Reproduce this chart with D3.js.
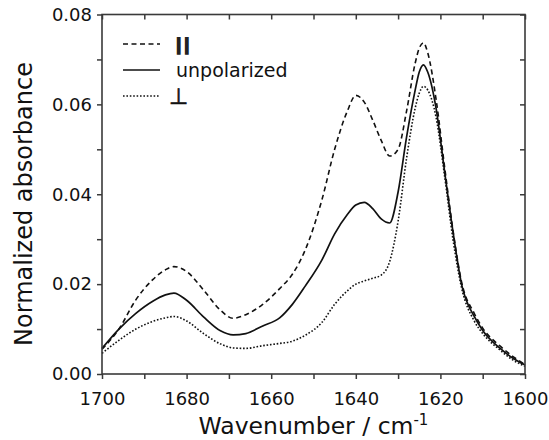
<!DOCTYPE html>
<html>
<head>
<meta charset="utf-8">
<script src="https://cdn.jsdelivr.net/npm/d3@7"></script>
<style>
  html, body { margin: 0; padding: 0; background: #fff; }
  svg { display: block; font-family: "DejaVu Sans", sans-serif; }
</style>
</head>
<body>
<svg id="chart" width="549" height="440"></svg>
<script>
const wavenumber = [1700, 1696, 1692, 1688, 1685, 1683, 1680, 1676, 1672, 1669, 1666, 1662, 1658, 1655, 1652, 1648, 1645, 1642, 1640, 1638, 1636, 1634, 1632, 1630, 1628, 1626, 1625, 1624, 1623, 1621, 1619, 1617, 1615, 1612, 1610, 1606, 1603, 1600];
const parallel = [0.0055, 0.0100, 0.0165, 0.0210, 0.0232, 0.0239, 0.0228, 0.0187, 0.0142, 0.0124, 0.0132, 0.0155, 0.0190, 0.0222, 0.0275, 0.0388, 0.0500, 0.0585, 0.0620, 0.0605, 0.0565, 0.0520, 0.0485, 0.0500, 0.0585, 0.0690, 0.0725, 0.0737, 0.0715, 0.0610, 0.0460, 0.0318, 0.0205, 0.0135, 0.0102, 0.0063, 0.0040, 0.0021];
const unpolarized = [0.0057, 0.0100, 0.0135, 0.0162, 0.0176, 0.0180, 0.0164, 0.0127, 0.0096, 0.0087, 0.0090, 0.0107, 0.0125, 0.0155, 0.0195, 0.0254, 0.0312, 0.0355, 0.0376, 0.0382, 0.0368, 0.0345, 0.0336, 0.0405, 0.0527, 0.0630, 0.0672, 0.0688, 0.0672, 0.0590, 0.0450, 0.0315, 0.0200, 0.0128, 0.0097, 0.0058, 0.0036, 0.0020];
const perpendicular = [0.0046, 0.0075, 0.0100, 0.0117, 0.0125, 0.0128, 0.0118, 0.0090, 0.0067, 0.0058, 0.0057, 0.0063, 0.0068, 0.0073, 0.0086, 0.0115, 0.0155, 0.0185, 0.0200, 0.0207, 0.0213, 0.0220, 0.0250, 0.0340, 0.0480, 0.0590, 0.0625, 0.0640, 0.0632, 0.0570, 0.0440, 0.0298, 0.0192, 0.0118, 0.0090, 0.0054, 0.0032, 0.0017];
const seriesNames = ["\u2225", "unpolarized", "\u22A5"];
const xTicks = [1700, 1680, 1660, 1640, 1620, 1600];
const xMinorTicks = [1690, 1670, 1650, 1630, 1610];
const yTicks = [0.00, 0.02, 0.04, 0.06, 0.08];
const yMinorTicks = [0.01, 0.03, 0.05, 0.07];

const mLeft = 102, mRight = 525, mTop = 14.5, mBottom = 374;
const svg = d3.select("#chart");
const x = d3.scaleLinear().domain([1700, 1600]).range([mLeft, mRight]);
const y = d3.scaleLinear().domain([0, 0.08]).range([mBottom, mTop]);

const styles = [
  { dash: "5,3.5", width: 1.6 },
  { dash: null, width: 1.7 },
  { dash: "1.6,1.8", width: 1.6 }
];
const seriesData = [parallel, unpolarized, perpendicular];

const line = d3.line()
  .x(d => x(d[0]))
  .y(d => y(d[1]))
  .curve(d3.curveMonotoneX);

seriesData.forEach((vals, i) => {
  svg.append("path")
    .datum(wavenumber.map((w, j) => [w, vals[j]]))
    .attr("fill", "none")
    .attr("stroke", "#111")
    .attr("stroke-width", styles[i].width)
    .attr("stroke-dasharray", styles[i].dash)
    .attr("d", line);
});

const axisColor = "#3a3a3a";
const tickLen = 5;
const fs = "18px";

svg.append("g").attr("transform", `translate(0,${mBottom})`)
  .call(d3.axisBottom(x).tickValues(xTicks).tickSize(tickLen).tickPadding(13).tickFormat(d3.format("d")));
svg.append("g").attr("transform", `translate(0,${mBottom})`)
  .call(d3.axisBottom(x).tickValues(xMinorTicks).tickSize(tickLen).tickFormat(""));
svg.append("g").attr("transform", `translate(0,${mTop})`)
  .call(d3.axisBottom(x).tickValues(xTicks.concat(xMinorTicks)).tickSize(tickLen).tickFormat(""));
svg.append("g").attr("transform", `translate(${mLeft},0)`)
  .call(d3.axisLeft(y).tickValues(yTicks).tickSize(tickLen).tickPadding(5).tickFormat(d3.format(".2f")));
svg.append("g").attr("transform", `translate(${mLeft},0)`)
  .call(d3.axisLeft(y).tickValues(yMinorTicks).tickSize(tickLen).tickFormat(""));
svg.append("g").attr("transform", `translate(${mRight},0)`)
  .call(d3.axisLeft(y).tickValues(yTicks.concat(yMinorTicks)).tickSize(tickLen).tickFormat(""));

svg.selectAll(".domain").remove();
svg.selectAll(".tick line").attr("stroke", axisColor).attr("stroke-width", 1.5);
svg.selectAll(".tick text").attr("fill", "#111").style("font-size", fs).style("font-family", "DejaVu Sans, sans-serif");

svg.append("rect")
  .attr("x", mLeft).attr("y", mTop)
  .attr("width", mRight - mLeft).attr("height", mBottom - mTop)
  .attr("fill", "none").attr("stroke", axisColor).attr("stroke-width", 1.6);

svg.append("text")
  .attr("x", (mLeft + mRight) / 2).attr("y", 434)
  .attr("text-anchor", "middle")
  .style("font-size", "23.5px").attr("fill", "#111")
  .html('Wavenumber / cm<tspan dy="-9" font-size="15px">-1</tspan>');

svg.append("text")
  .attr("transform", `translate(32,204) rotate(-90)`)
  .attr("text-anchor", "middle")
  .style("font-size", "24px").attr("fill", "#111")
  .text("Normalized absorbance");

const legendY = [44, 70, 96];
seriesNames.forEach((name, i) => {
  svg.append("line")
    .attr("x1", 123).attr("x2", 160)
    .attr("y1", legendY[i]).attr("y2", legendY[i])
    .attr("stroke", "#111")
    .attr("stroke-width", styles[i].width)
    .attr("stroke-dasharray", styles[i].dash);
});
svg.append("text")
  .attr("transform", `translate(170,${legendY[0] + 7}) scale(2.7,1)`)
  .style("font-size", "18px").attr("fill", "#222")
  .text(seriesNames[0]);
svg.append("text")
  .attr("x", 176).attr("y", legendY[1]).attr("dy", "0.35em")
  .style("font-size", "19px").attr("fill", "#111")
  .text(seriesNames[1]);
svg.append("text")
  .attr("x", 169).attr("y", legendY[2] + 8)
  .style("font-size", "22px").attr("fill", "#111")
  .attr("stroke", "#111").attr("stroke-width", 0.6)
  .text(seriesNames[2]);
</script>
</body>
</html>
